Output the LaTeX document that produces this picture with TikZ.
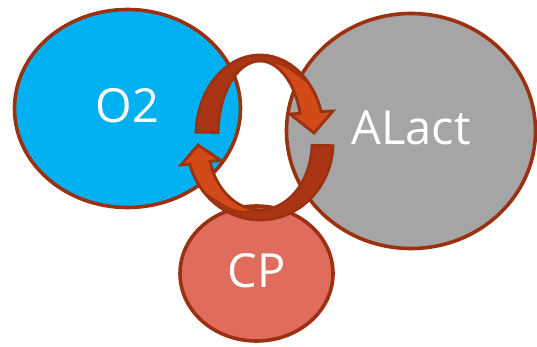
\documentclass[tikz,border=0pt]{standalone}
\usepackage{fontspec}
\setmainfont{Open Sans}
\usetikzlibrary{shapes.geometric,calc}

\begin{document}
\begin{tikzpicture}[x=1pt,y=1pt,
  bolla/.style={ellipse, draw=bordo, line width=3.6pt, inner sep=0pt,
    text=white, text depth=7pt, font=\fontsize{47}{50}\selectfont},
  frecciascura/.style={fill=frScura},
  frecciachiara/.style={fill=frChiara, draw=bordo, line width=1pt},
  contorno/.style={draw=bordo, line width=2.8pt}]

% Colori
\definecolor{colO2}{HTML}{00B0F0}
\definecolor{colAL}{HTML}{A5A5A5}
\definecolor{colCP}{HTML}{E06C5E}
\definecolor{bordo}{HTML}{9B3111}
\definecolor{frScura}{HTML}{A93514}
\definecolor{frChiara}{HTML}{D24A17}

\useasboundingbox (0,0) rectangle (537,346);

% Ellissi
\node[bolla, fill=colO2, minimum width=226pt, minimum height=198pt] (o2) at (127.5,237.5) {O2};
\node[bolla, fill=colAL, minimum width=249pt, minimum height=235pt] (alact) at (411,215) {ALact};
\node[bolla, fill=colCP, minimum width=153pt, minimum height=135pt] (cp) at (256.5,72.5) {CP};

% Centri delle frecce
\coordinate (su) at (260,211);
\coordinate (giu) at (260,203);

% Freccia superiore
\coordinate (suCoda) at ($(su)+(178:64pt and 80pt)$);
\coordinate (suLuce) at ($(su)+(95:42pt and 74pt)$);
\def\frecciaSu{(suCoda) arc[start angle=178, end angle=17, x radius=64pt, y radius=80pt]
  -- (333,235) -- (314,213) -- (290,232)
  -- ($(su)+(17:42pt and 74pt)$) arc[start angle=17, end angle=178, x radius=42pt, y radius=74pt] -- cycle}
\path[frecciascura] \frecciaSu;
\path[frecciachiara] (suLuce) arc[start angle=95, end angle=17, x radius=42pt, y radius=74pt]
  -- (290,232) -- (314,213) -- (333,235)
  -- ($(su)+(17:64pt and 80pt)$) arc[start angle=17, end angle=40, x radius=64pt, y radius=80pt]
  .. controls (282,283) .. (suLuce) -- cycle;
\path[contorno] \frecciaSu;

% Freccia inferiore
\coordinate (giuCoda) at ($(giu)+(-2:73pt and 77pt)$);
\coordinate (giuLuce) at ($(giu)+(-85:52pt and 67pt)$);
\def\frecciaGiu{(giuCoda) arc[start angle=-2, end angle=-164, x radius=73pt, y radius=77pt]
  -- (181,181) -- (198,201) -- (221,185.5)
  -- ($(giu)+(-164:52pt and 67pt)$) arc[start angle=-164, end angle=-2, x radius=52pt, y radius=67pt] -- cycle}
\path[frecciascura] \frecciaGiu;
\path[frecciachiara] (giuLuce) arc[start angle=-85, end angle=-164, x radius=52pt, y radius=67pt]
  -- (221,185.5) -- (198,201) -- (181,181)
  -- ($(giu)+(-164:73pt and 77pt)$) arc[start angle=-164, end angle=-140, x radius=73pt, y radius=77pt]
  .. controls (236,132.5) .. (giuLuce) -- cycle;
\path[contorno] \frecciaGiu;

\end{tikzpicture}
\end{document}
